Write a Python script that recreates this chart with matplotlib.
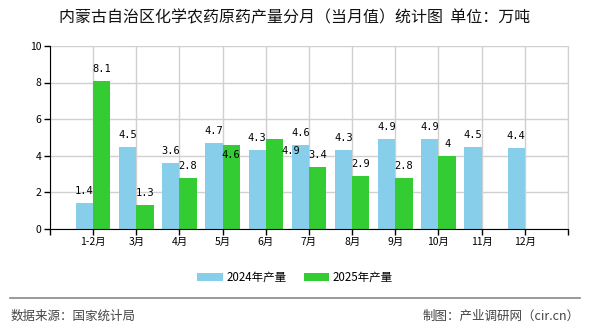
import matplotlib
matplotlib.use("Agg")
import matplotlib.pyplot as plt
from matplotlib.lines import Line2D
import numpy as np

plt.rcParams['font.family'] = ['Noto Sans CJK SC', 'DejaVu Sans']

categories = ["1-2月", "3月", "4月", "5月", "6月", "7月", "8月", "9月", "10月", "11月", "12月"]
s2024 = [1.4, 4.5, 3.6, 4.7, 4.3, 4.6, 4.3, 4.9, 4.9, 4.5, 4.4]
s2025 = [8.1, 1.3, 2.8, 4.6, 4.9, 3.4, 2.9, 2.8, 4.0]
labels2024 = ["1.4", "4.5", "3.6", "4.7", "4.3", "4.6", "4.3", "4.9", "4.9", "4.5", "4.4"]
labels2025 = ["8.1", "1.3", "2.8", "4.6", "4.9", "3.4", "2.9", "2.8", "4"]
yticks = [0, 2, 4, 6, 8, 10]

c24 = "#87CEEB"
c25 = "#33CC33"

fig = plt.figure(figsize=(5.9, 3.3), dpi=100)
ax = fig.add_axes([0.0847, 0.306, 0.878, 0.555])

x = np.arange(1, len(categories) + 1)
w = 0.40
b1 = ax.bar(x[:len(s2024)] - w / 2, s2024, w, color=c24, zorder=3, label="2024年产量")
b2 = ax.bar(x[:len(s2025)] + w / 2, s2025, w, color=c25, zorder=3, label="2025年产量")

ax.set_xlim(0, 12)
ax.set_ylim(0, 10)
ax.set_yticks(yticks)
ax.set_xticks(np.arange(0, 13))
ax.set_xticklabels([""] + categories + [""])
ax.grid(True, color="#d0d0d0", linewidth=1, zorder=0)
ax.spines["top"].set_visible(False)
ax.spines["right"].set_color("#d0d0d0")
ax.spines["left"].set_color("black")
ax.spines["bottom"].set_color("black")
ax.spines["bottom"].set_zorder(4)
ax.tick_params(axis="both", direction="out", length=4, width=1, colors="black",
               labelsize=7.5, pad=2)

lab_font = dict(family=["DejaVu Sans Mono"], fontsize=7.5, color="black")
for i, (v, t) in enumerate(zip(s2024, labels2024)):
    ax.annotate(t, (x[i] - w / 2, v), xytext=(0, 5), textcoords="offset points",
                ha="center", va="bottom", zorder=5, **lab_font)
offs25 = {3: (0, -11), 4: (12, -12)}
for i, (v, t) in enumerate(zip(s2025, labels2025)):
    dx, dy = offs25.get(i, (0, 5))
    ax.annotate(t, (x[i] + w / 2, v), xytext=(dx, dy), textcoords="offset points",
                ha="center", va="bottom", zorder=5, **lab_font)

fig.text(0.5, 0.945, "内蒙古自治区化学农药原药产量分月（当月值）统计图  单位：万吨",
         ha="center", va="center", fontsize=11.5, color="#111111")

fig.legend(handles=[b1, b2], loc="center", bbox_to_anchor=(0.5, 0.16), ncol=2,
           frameon=False, fontsize=8.3, handlelength=2.2, handleheight=0.7,
           columnspacing=1.5, handletextpad=0.3)

fig.add_artist(Line2D([0.017, 0.983], [0.097, 0.097], color="#888888", linewidth=1.2,
                      transform=fig.transFigure))
fig.text(0.017, 0.042, "数据来源：国家统计局", ha="left", va="center", fontsize=9, color="#444444")
fig.text(0.983, 0.042, "制图：产业调研网（cir.cn）", ha="right", va="center", fontsize=9, color="#444444")

fig.savefig("out.png", dpi=100)
